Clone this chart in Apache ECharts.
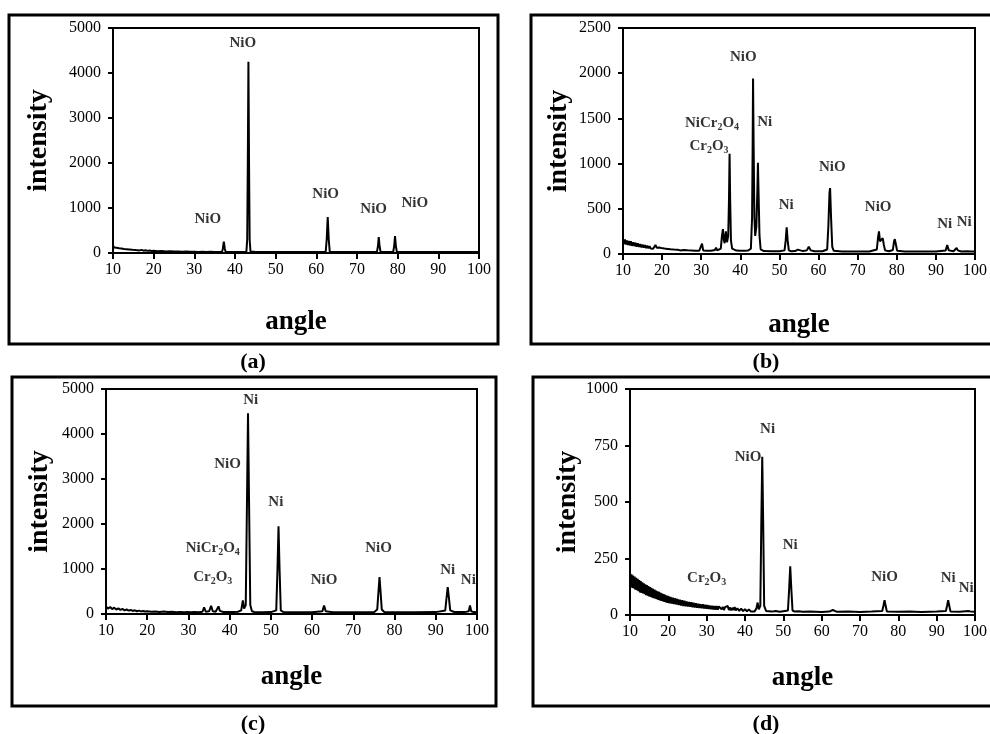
<!DOCTYPE html>
<html><head><meta charset="utf-8">
<script src="https://cdn.jsdelivr.net/npm/echarts@6/dist/echarts.min.js"></script>
<style>html,body{margin:0;padding:0;background:#fff}#c{width:990px;height:734px}</style>
</head><body><div id="c"></div>
<script>
// ---------- data (angle in degrees, intensity in counts) ----------
const scanA = [
 [10.0,165],[10.3,120],[10.6,150],[10.9,115],[11.2,140],[11.5,105],[11.8,130],[12.1,100],[12.4,120],[12.7,90],
 [13.0,110],[13.3,85],[13.6,100],[14.0,78],[14.4,92],[14.8,70],[15.2,85],[15.6,64],[16.0,78],[16.5,58],
 [17.0,70],[17.5,52],[18.0,62],[18.5,47],[19.0,56],[19.5,43],[20.0,50],[21,40],[22,46],[23,36],[24,41],
 [25,32],[26,36],[27,30],[28,32],[29,27],[30,29],[31,25],[32,27],[33,24],[34,26],[35,23],[36,25],
 [36.8,28],[37.0,90],[37.25,250],[37.5,90],[37.7,28],[38.5,24],[40,22],[41,24],[42,25],[42.8,30],
 [43.0,300],[43.15,2000],[43.3,4250],[43.45,2000],[43.6,300],[43.8,35],[44.5,30],[45,24],[47,22],[50,21],
 [52,23],[55,20],[58,21],[60,20],[62.3,25],[62.55,300],[62.8,800],[63.05,300],[63.3,28],[65,20],[70,21],
 [74.9,24],[75.15,150],[75.35,355],[75.55,150],[75.8,24],[78.9,24],[79.15,160],[79.35,375],[79.55,160],
 [79.8,24],[83,20],[88,21],[92,20],[96,21],[100,20]
];
const labelsA = [['NiO',41.9,4660],['NiO',33.3,755],['NiO',62.3,1310],['NiO',74.1,977],['NiO',84.2,1110]];

const scanB = [
 [10,170],[10.25,110],[10.5,160],[10.75,105],[11,150],[11.25,100],[11.5,145],[11.75,95],[12,140],[12.3,90],
 [12.6,130],[12.9,88],[13.2,125],[13.5,82],[13.8,118],[14.1,78],[14.4,110],[14.7,74],[15,104],[15.3,70],
 [15.6,98],[15.9,66],[16.2,92],[16.5,62],[16.8,86],[17.1,60],[17.4,82],[17.7,58],[18,80],[18.3,100],
 [18.6,70],[18.9,55],[19.2,72],[19.5,50],[19.8,66],[20.2,47],[20.6,60],[21,44],[21.4,56],[21.8,42],
 [22.2,52],[22.6,40],[23,49],[23.5,38],[24,46],[24.3,62],[24.6,40],[25,38],[25.5,44],[26,35],[26.5,41],
 [27,34],[27.5,39],[28,33],[28.5,37],[29,32],[29.5,36],[29.9,40],[30.2,115],[30.5,40],[31,33],[31.5,37],
 [32,32],[32.5,36],[33,33],[33.5,45],[33.8,70],[34.1,40],[34.6,38],[35,60],[35.3,200],[35.55,275],
 [35.8,150],[36.0,120],[36.3,250],[36.6,130],[36.9,200],[37.1,600],[37.25,1110],[37.4,600],[37.6,150],
 [37.9,60],[38.3,42],[39,38],[40,36],[41,35],[42,38],[42.7,60],[43.0,400],[43.15,1200],[43.25,1940],
 [43.4,1200],[43.6,400],[43.8,200],[44.1,300],[44.35,700],[44.5,1010],[44.65,700],[44.9,200],[45.2,50],
 [46,32],[48,30],[50,30],[51.3,40],[51.6,150],[51.85,295],[52.1,150],[52.4,40],[53,30],[54,32],[54.7,48],
 [55.2,30],[56,32],[57,40],[57.5,80],[58,40],[59,30],[61,30],[62.2,50],[62.5,300],[62.8,680],[62.95,730],
 [63.2,400],[63.5,80],[63.9,35],[66,28],[70,27],[73,28],[74.9,50],[75.2,180],[75.45,250],[75.7,140],
 [76.0,130],[76.4,175],[76.7,100],[77,40],[78,30],[79,45],[79.3,140],[79.5,165],[79.8,100],[80.1,35],
 [82,28],[86,27],[90,27],[92.5,40],[92.9,100],[93.3,40],[94.5,30],[95,50],[95.3,66],[95.6,40],[96.5,28],
 [98,30],[98.5,40],[99,28],[100,27]
];
const labelsB = [['NiO',40.75,2180],['Ni',46.25,1460],['NiCr2O4',32.75,1450],['Cr2O3',32,1195],['Ni',51.75,542],
 ['NiO',63.5,962],['NiO',75.25,520],['Ni',92.25,332],['Ni',97.25,354]];

const scanC = [
 [10,170],[10.5,120],[11,155],[11.5,110],[12,140],[12.5,100],[13,125],[13.5,90],[14,112],[14.5,82],[15,100],
 [15.5,75],[16,90],[16.5,68],[17,82],[17.5,62],[18,75],[18.5,58],[19,68],[19.5,54],[20,62],[21,50],[22,58],
 [23,46],[24,54],[25,42],[26,50],[27,40],[28,46],[29,38],[29.8,44],[30.2,80],[30.6,40],[31.5,42],[32.5,38],
 [33.4,50],[33.8,150],[34.2,50],[35.0,60],[35.5,180],[35.9,60],[36.6,50],[37.0,80],[37.3,170],[37.6,70],
 [38.5,45],[40,42],[41,45],[42,50],[42.8,80],[43.2,300],[43.5,120],[43.9,200],[44.2,2500],[44.45,4460],
 [44.7,2500],[45.0,200],[45.4,60],[46,45],[48,40],[50,42],[51.3,80],[51.6,1000],[51.85,1950],[52.1,1000],
 [52.4,80],[53,45],[55,40],[57,40],[60,38],[62.5,60],[62.9,190],[63.3,60],[65,38],[70,38],[75,40],
 [75.8,100],[76.1,500],[76.35,820],[76.6,500],[76.9,100],[77.5,45],[80,40],[85,40],[90,42],[92.3,80],
 [92.6,350],[92.9,600],[93.2,350],[93.5,80],[94.5,45],[97,42],[98.0,60],[98.3,190],[98.6,60],[99.2,42],[100,40]
];
const labelsC = [['Ni',45.1,4750],['NiO',39.5,3330],['Ni',51.2,2490],['NiCr2O4',35.9,1465],['Cr2O3',35.9,820],
 ['NiO',62.9,755],['NiO',76.1,1465],['Ni',92.9,977],['Ni',97.9,755]];

const scanD = [
 [10.0,190],[10.2,125],[10.4,180],[10.6,120],[10.8,175],[11.0,118],[11.2,170],[11.4,112],[11.6,165],[11.8,110],
 [12.0,160],[12.2,105],[12.4,155],[12.6,100],[12.8,150],[13.0,98],[13.2,145],[13.4,95],[13.6,140],[13.8,92],
 [14.0,136],[14.2,88],[14.4,132],[14.6,85],[14.8,128],[15.0,82],[15.2,124],[15.4,80],[15.6,120],[15.8,77],
 [16.0,116],[16.2,74],[16.4,112],[16.6,72],[16.8,108],[17.0,70],[17.2,105],[17.4,67],[17.6,102],[17.8,65],
 [18.0,98],[18.2,62],[18.4,95],[18.6,60],[18.8,92],[19.0,58],[19.2,89],[19.4,56],[19.6,86],[19.8,54],
 [20.0,84],[20.3,52],[20.6,80],[20.9,50],[21.2,77],[21.5,48],[21.8,74],[22.1,46],[22.4,71],[22.7,44],
 [23.0,68],[23.3,42],[23.6,66],[23.9,40],[24.2,63],[24.5,39],[24.8,60],[25.1,37],[25.4,58],[25.7,36],
 [26.0,56],[26.3,34],[26.6,54],[26.9,33],[27.2,52],[27.5,32],[27.8,50],[28.1,31],[28.4,48],[28.7,30],
 [29.0,47],[29.3,29],[29.6,45],[29.9,28],[30.2,44],[30.5,27],[30.8,42],[31.1,26],[31.4,41],[31.7,25],
 [32.0,40],[32.3,24],[32.6,39],[32.9,24],[33.2,38],[33.5,30],[33.7,45],[33.9,25],[34.2,36],[34.5,22],
 [34.8,35],[35.2,30],[35.5,40],[35.8,22],[36.1,33],[36.4,20],[36.7,32],[37.0,22],[37.3,35],[37.6,20],
 [38.0,30],[38.5,18],[39.0,28],[39.5,17],[40.0,26],[40.5,16],[41.0,25],[41.5,16],[42.0,24],[42.5,16],
 [43.0,30],[43.3,55],[43.6,25],[44.0,40],[44.25,400],[44.5,700],[44.75,400],[45.0,40],[45.5,18],[46,20],
 [47,15],[48,18],[49,14],[50,17],[51.2,20],[51.5,110],[51.8,215],[52.1,110],[52.4,20],[53,15],[54,17],
 [55,14],[57,16],[60,13],[62,15],[62.9,22],[64,14],[67,15],[70,13],[73,15],[75.8,18],[76.1,40],[76.4,65],
 [76.7,40],[77,16],[80,14],[83,15],[86,13],[90,15],[92.4,18],[92.7,40],[93.0,65],[93.3,40],[93.6,16],
 [96,14],[98.2,18],[98.5,25],[98.8,16],[100,14]
];
const labelsD = [['Ni',45.9,822],['NiO',40.8,698],['Ni',51.8,309],['Cr2O3',30,164],['NiO',76.4,168],
 ['Ni',93,164],['Ni',97.7,119]];

const panelTags = ['(a)','(b)','(c)','(d)'];
const yMaxes = [5000, 2500, 5000, 1000];
const ySteps = [1000, 500, 1000, 250];
const xMin = 10, xMax = 100, xStep = 10;

// ---------- layout / style ----------
const FONT = 'Liberation Serif';
const grids = [
 {left:113, top:28, width:366, height:225},
 {left:623, top:28, width:360, height:226},
 {left:106, top:389, width:371, height:225},
 {left:630, top:389, width:351, height:226}
];
const yNameGaps = [60, 50, 52, 46];
const xNameGaps = [56, 58, 50, 50];
const boxes = [
 {x:9, y:15, width:489, height:329},
 {x:531, y:15, width:480, height:329},
 {x:12, y:377, width:484, height:329},
 {x:533, y:377, width:480, height:329}
];
const tagPos = [[253,362],[766,362],[253,724],[766,724]];

const scans = [scanA, scanB, scanC, scanD];
const labelSets = [labelsA, labelsB, labelsC, labelsD];

function richFormula(s) {
  return s.replace(/([A-Za-z]+)|(\d+)/g, (m, a, d) => a ? '{n|' + a + '}' : '{s|' + d + '}');
}

const option = {
  animation: false,
  backgroundColor: '#fff',
  grid: grids.map(g => Object.assign({show:true, borderColor:'#000', borderWidth:2, containLabel:false}, g)),
  xAxis: grids.map((g, i) => ({
    type:'value', gridIndex:i, min:xMin, max:xMax, interval:xStep,
    name:'angle', nameLocation:'middle', nameGap:xNameGaps[i],
    nameTextStyle:{fontFamily:FONT, fontWeight:'bold', fontSize:27, color:'#000'},
    axisLine:{show:true, lineStyle:{color:'#000', width:2}},
    axisTick:{show:true, inside:false, length:6, lineStyle:{color:'#000', width:2}},
    axisLabel:{fontFamily:FONT, fontSize:16, color:'#000', margin:9, formatter:v => String(v)},
    splitLine:{show:false}
  })),
  yAxis: grids.map((g, i) => ({
    type:'value', gridIndex:i, min:0, max:yMaxes[i], interval:ySteps[i],
    name:'intensity', nameLocation:'middle', nameGap:yNameGaps[i], nameRotate:90,
    nameTextStyle:{fontFamily:FONT, fontWeight:'bold', fontSize:28, color:'#000'},
    axisLine:{show:true, lineStyle:{color:'#000', width:2}},
    axisTick:{show:true, inside:false, length:5, lineStyle:{color:'#000', width:2}},
    axisLabel:{fontFamily:FONT, fontSize:16, color:'#000', margin:12, formatter:v => String(v)},
    splitLine:{show:false}
  })),
  series: [],
  graphic: []
};

scans.forEach((scan, i) => {
  option.series.push({
    type:'line', xAxisIndex:i, yAxisIndex:i, data:scan, showSymbol:false, symbol:'none',
    silent:true, lineStyle:{color:'#000', width:2}, emphasis:{disabled:true}
  });
  option.series.push({
    type:'scatter', xAxisIndex:i, yAxisIndex:i, symbolSize:2, silent:true, clip:false, z:5,
    itemStyle:{color:'rgba(255,255,255,0)'}, emphasis:{disabled:true},
    data: labelSets[i].map(l => ({name:l[0], value:[l[1], l[2]]})),
    label:{show:true, position:'inside', color:'#000', formatter:p => richFormula(p.name),
      rich:{
        n:{fontFamily:FONT, fontWeight:'bold', fontSize:15, color:'#000'},
        s:{fontFamily:FONT, fontWeight:'bold', fontSize:10, color:'#000', padding:[9,0,0,0]}
      }}
  });
});

boxes.forEach(b => option.graphic.push({
  type:'rect', shape:b, style:{fill:null, stroke:'#000', lineWidth:3}, silent:true
}));
panelTags.forEach((t, i) => option.graphic.push({
  type:'text', x:tagPos[i][0], y:tagPos[i][1], silent:true,
  style:{text:t, fontFamily:FONT, fontWeight:'bold', fontSize:22, fill:'#000', align:'center', verticalAlign:'middle'}
}));

const chart = echarts.init(document.getElementById('c'), null, {renderer:'canvas'});
chart.setOption(option);
</script></body></html>
